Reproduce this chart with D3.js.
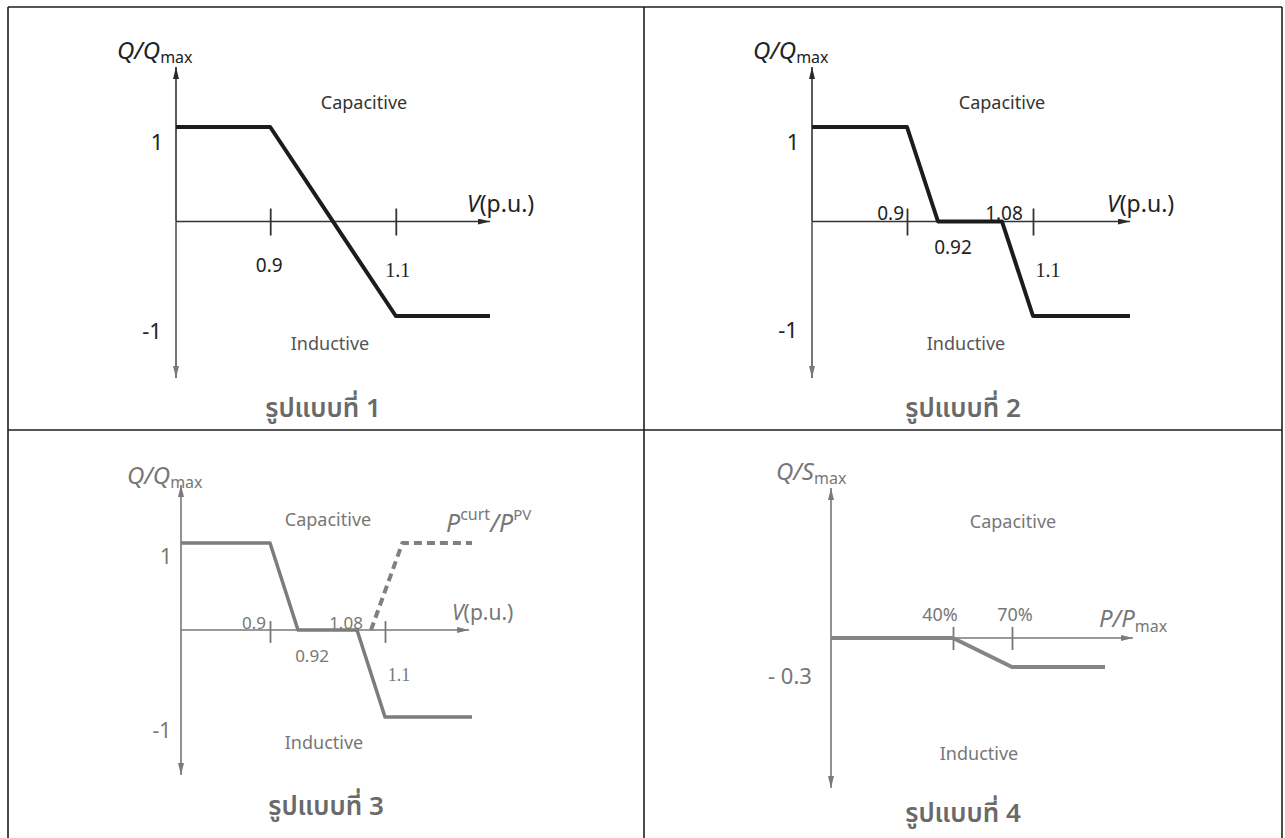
<!DOCTYPE html>
<html>
<head>
<meta charset="utf-8">
<script src="https://cdn.jsdelivr.net/npm/d3@7/dist/d3.min.js"></script>
<style>
  html, body { margin: 0; padding: 0; background: #fff; }
  svg { display: block; }
  text { font-family: "Noto Sans", "Open Sans", sans-serif; }
  .thai { font-family: "Noto Sans Thai", "Noto Sans", "DejaVu Sans", sans-serif; }
  .serif { font-family: "Liberation Serif", "DejaVu Serif", serif; }
</style>
</head>
<body>
<svg id="chart" width="1285" height="838"></svg>
<script>
// ---- Volt-VAr / Volt-Watt / Watt-VAr control curves ----
// Mode 1: linear droop between 0.9 and 1.1 p.u.
const mode1Voltage = [0.75, 0.9, 1.1, 1.25];
const mode1Q = [1, 1, -1, -1];
const mode1Ticks = [0.9, 1.1];

// Mode 2: droop with dead band 0.92 - 1.08 p.u.
const mode2Voltage = [0.75, 0.9, 0.92, 1.08, 1.1, 1.25];
const mode2Q = [1, 1, 0, 0, -1, -1];
const mode2Ticks = [0.9, 1.1];

// Mode 3: dead-band droop plus active power curtailment
const mode3Voltage = [0.75, 0.9, 0.92, 1.08, 1.1, 1.25];
const mode3Q = [1, 1, 0, 0, -1, -1];
const mode3CurtVoltage = [1.09, 1.13, 1.25];
const mode3CurtRatio = [0, 1, 1];
const mode3Ticks = [0.9, 1.1];

// Mode 4: reactive power as a function of active power
const mode4Power = [0, 40, 70, 100];
const mode4Q = [0, 0, -0.3, -0.3];
const mode4Ticks = [40, 70];

const panelTitles = ["รูปแบบที่ 1", "รูปแบบที่ 2", "รูปแบบที่ 3", "รูปแบบที่ 4"];
const regionLabels = ["Capacitive", "Inductive"];

const svg = d3.select("#chart");

// ---- frame ----
const frame = svg.append("g").attr("stroke", "#1e1e1e").attr("stroke-width", 1.6).attr("fill", "none");
frame.append("line").attr("x1", 8).attr("x2", 1282).attr("y1", 7).attr("y2", 7);
frame.append("line").attr("x1", 8).attr("x2", 8).attr("y1", 7).attr("y2", 838);
frame.append("line").attr("x1", 1282).attr("x2", 1282).attr("y1", 7).attr("y2", 838);
frame.append("line").attr("x1", 644).attr("x2", 644).attr("y1", 7).attr("y2", 838);
frame.append("line").attr("x1", 8).attr("x2", 1282).attr("y1", 430).attr("y2", 430);

// ---- arrow markers ----
const defs = svg.append("defs");
function marker(id, color) {
  defs.append("marker")
    .attr("id", id)
    .attr("viewBox", "0 0 12 6")
    .attr("refX", 12).attr("refY", 3)
    .attr("markerWidth", 12).attr("markerHeight", 6)
    .attr("markerUnits", "userSpaceOnUse")
    .attr("orient", "auto")
    .append("path").attr("d", "M0,0 L12,3 L0,6 Z").attr("fill", color);
}
marker("arrDark", "#2a2a2a");
marker("arrGray", "#7a7a7a");

// Draws one panel: axes with arrows, ticks, curves and labels
function drawPanel(cfg) {
  const g = svg.append("g");
  const x = d3.scaleLinear().domain(cfg.xDomain).range(cfg.xRange);
  const y = d3.scaleLinear().domain(cfg.yDomain).range(cfg.yRange);
  const x0 = cfg.xRange[0];
  const yZero = y(0);

  // vertical axis (two halves so the arrowheads can differ in tone)
  g.append("line")
    .attr("x1", x0).attr("x2", x0).attr("y1", yZero).attr("y2", cfg.yTop)
    .attr("stroke", cfg.axisColor).attr("stroke-width", 1.6)
    .attr("marker-end", `url(#${cfg.arrowTop})`);
  g.append("line")
    .attr("x1", x0).attr("x2", x0).attr("y1", yZero).attr("y2", cfg.yBottom)
    .attr("stroke", cfg.axisColorLow).attr("stroke-width", 1.6)
    .attr("marker-end", "url(#arrGray)");
  // horizontal axis
  g.append("line")
    .attr("x1", x0).attr("x2", x(cfg.xAxisEnd)).attr("y1", yZero).attr("y2", yZero)
    .attr("stroke", cfg.axisColor).attr("stroke-width", 1.4)
    .attr("marker-end", `url(#${cfg.arrowRight})`);

  // tick marks crossing the horizontal axis
  const axis = d3.axisBottom(x).tickValues(cfg.ticks).tickSize(cfg.tickLen).tickFormat("");
  const ag = g.append("g").attr("transform", `translate(0,${yZero - cfg.tickUp})`).call(axis);
  ag.select(".domain").remove();
  ag.selectAll(".tick line").attr("stroke", cfg.axisColor).attr("stroke-width", 1.8);

  // curves
  const line = d3.line().x(d => x(d[0])).y(d => y(d[1]));
  cfg.curves.forEach(c => {
    g.append("path")
      .datum(d3.zip(c.xs, c.ys))
      .attr("d", line)
      .attr("fill", "none")
      .attr("stroke", c.color)
      .attr("stroke-width", c.width)
      .attr("stroke-linejoin", "round")
      .attr("stroke-dasharray", c.dash || null);
  });

  // numeric labels
  cfg.labels.forEach(l => {
    g.append("text")
      .attr("class", l.cls || null)
      .attr("x", l.x(x)).attr("y", l.y(y))
      .attr("text-anchor", l.anchor || "middle")
      .attr("font-size", l.size)
      .attr("fill", l.color)
      .text(l.text);
  });

  // rich labels (italic symbols with sub/superscripts)
  cfg.rich.forEach(r => {
    const t = g.append("text").attr("x", r.x).attr("y", r.y).attr("fill", r.color);
    r.parts.forEach(p => {
      const ts = t.append("tspan").attr("font-size", p.size).text(p.text);
      if (p.italic) ts.attr("font-style", "italic");
      if (p.dy) ts.attr("dy", p.dy);
    });
  });

  // region names and title
  g.append("text").attr("x", cfg.capX).attr("y", cfg.capY).attr("text-anchor", "middle")
    .attr("font-size", 18).attr("fill", cfg.textColor).text(regionLabels[0]);
  g.append("text").attr("x", cfg.indX).attr("y", cfg.indY).attr("text-anchor", "middle")
    .attr("font-size", 18).attr("fill", cfg.indColor).text(regionLabels[1]);
  g.append("text").attr("class", "thai")
    .attr("x", cfg.titleX).attr("y", cfg.titleY).attr("text-anchor", "middle")
    .attr("font-size", 26).attr("font-weight", 600).attr("fill", "#6a6a6a")
    .text(cfg.title);
}

function qLabel(x, y, color, sym) {
  return { x, y, color, parts: [
    { text: "Q/" + sym, italic: true, size: 24 },
    { text: "max", size: 16, dy: 4 }
  ]};
}
function vLabel(x, y, color, size) {
  return { x, y, color, parts: [
    { text: "V", italic: true, size },
    { text: "(p.u.)", size }
  ]};
}

const dark = "#1c1c1c";

// Mode 1
drawPanel({
  xDomain: [0.75, 1.25], xRange: [176, 490],
  yDomain: [-1, 1], yRange: [316, 127],
  yTop: 67, yBottom: 378, xAxisEnd: 1.25,
  axisColor: "#333", axisColorLow: "#555", arrowTop: "arrDark", arrowRight: "arrDark",
  ticks: mode1Ticks, tickLen: 27, tickUp: 13,
  curves: [{ xs: mode1Voltage, ys: mode1Q, color: dark, width: 4 }],
  labels: [
    { text: "0.9", x: s => s(0.9) - 1, y: () => 272, size: 19, color: "#222" },
    { text: "1.1", x: s => s(1.1) + 2, y: () => 277, size: 20, color: "#222", cls: "serif" },
    { text: "1", x: s => s.range()[0] - 19, y: s => s(1) + 23, size: 22, color: "#222" },
    { text: "-1", x: s => s.range()[0] - 24, y: s => s(-1) + 23, size: 22, color: "#222" }
  ],
  rich: [qLabel(117, 59, "#222", "Q"), vLabel(467, 212, "#222", 23)],
  capX: 364, capY: 109, indX: 330, indY: 350, textColor: "#333", indColor: "#555",
  title: panelTitles[0], titleX: 323, titleY: 417
});

// Mode 2
drawPanel({
  xDomain: [0.75, 0.9, 0.92, 1.08, 1.1, 1.25], xRange: [812, 907, 938, 1002, 1033, 1130],
  yDomain: [-1, 1], yRange: [316, 127],
  yTop: 67, yBottom: 378, xAxisEnd: 1.25,
  axisColor: "#333", axisColorLow: "#555", arrowTop: "arrDark", arrowRight: "arrDark",
  ticks: mode2Ticks, tickLen: 27, tickUp: 13,
  curves: [{ xs: mode2Voltage, ys: mode2Q, color: dark, width: 4 }],
  labels: [
    { text: "0.9", x: s => s(0.9) - 3, y: () => 220, size: 19, color: "#222", anchor: "end" },
    { text: "1.08", x: s => s(1.08) + 2, y: () => 220, size: 19, color: "#222" },
    { text: "0.92", x: s => s(0.92) + 15, y: () => 254, size: 19, color: "#222" },
    { text: "1.1", x: s => s(1.1) + 15, y: () => 277, size: 20, color: "#222", cls: "serif" },
    { text: "1", x: s => s.range()[0] - 19, y: s => s(1) + 23, size: 22, color: "#222" },
    { text: "-1", x: s => s.range()[0] - 24, y: s => s(-1) + 22, size: 22, color: "#222" }
  ],
  rich: [qLabel(753, 59, "#222", "Q"), vLabel(1107, 212, "#222", 23)],
  capX: 1002, capY: 109, indX: 966, indY: 350, textColor: "#333", indColor: "#555",
  title: panelTitles[1], titleX: 963, titleY: 417
});

// Mode 3
const gray = "#7c7c7c";
drawPanel({
  xDomain: [0.75, 0.9, 0.92, 1.08, 1.1, 1.25], xRange: [181, 270, 298, 357, 385, 472],
  yDomain: [-1, 1], yRange: [717, 543],
  yTop: 485, yBottom: 775, xAxisEnd: 1.245,
  axisColor: "#777", axisColorLow: "#777", arrowTop: "arrGray", arrowRight: "arrGray",
  ticks: mode3Ticks, tickLen: 22, tickUp: 9,
  curves: [
    { xs: mode3Voltage, ys: mode3Q, color: gray, width: 3.5 },
    { xs: mode3CurtVoltage, ys: mode3CurtRatio, color: "#808080", width: 4, dash: "8,5" }
  ],
  labels: [
    { text: "0.9", x: s => s(0.9) - 4, y: () => 629, size: 17, color: "#777", anchor: "end" },
    { text: "1.08", x: s => s(1.08) - 11, y: () => 629, size: 17, color: "#777" },
    { text: "0.92", x: s => s(0.92) + 14, y: () => 662, size: 17, color: "#777" },
    { text: "1.1", x: s => s(1.1) + 14, y: () => 681, size: 18, color: "#777", cls: "serif" },
    { text: "1", x: s => s.range()[0] - 15, y: s => s(1) + 21, size: 21, color: "#777" },
    { text: "-1", x: s => s.range()[0] - 19, y: s => s(-1) + 21, size: 21, color: "#777" }
  ],
  rich: [
    qLabel(127, 484, "#777", "Q"),
    vLabel(452, 620, "#777", 21),
    { x: 446, y: 532, color: "#777", parts: [
      { text: "P", italic: true, size: 25 },
      { text: "curt", size: 16, dy: -12 },
      { text: "/", italic: true, size: 25, dy: 12 },
      { text: "P", italic: true, size: 25 },
      { text: "PV", size: 15, dy: -12 }
    ]}
  ],
  capX: 328, capY: 526, indX: 324, indY: 749, textColor: "#777", indColor: "#777",
  title: panelTitles[2], titleX: 326, titleY: 815
});

// Mode 4
drawPanel({
  xDomain: [0, 40, 70, 100, 110], xRange: [831, 953, 1012, 1105, 1133],
  yDomain: [-0.3, 0], yRange: [667, 638],
  yTop: 488, yBottom: 788, xAxisEnd: 110,
  axisColor: "#777", axisColorLow: "#777", arrowTop: "arrGray", arrowRight: "arrGray",
  ticks: mode4Ticks, tickLen: 23, tickUp: 11,
  curves: [{ xs: mode4Power, ys: mode4Q, color: "#858585", width: 4 }],
  labels: [
    { text: "40%", x: s => s(40) - 13, y: () => 621, size: 18, color: "#777" },
    { text: "70%", x: s => s(70) + 3, y: () => 621, size: 18, color: "#777" },
    { text: "- 0.3", x: s => s.range()[0] - 41, y: s => s(-0.3) + 17, size: 22, color: "#777" }
  ],
  rich: [
    qLabel(776, 480, "#777", "S"),
    { x: 1099, y: 627, color: "#777", parts: [
      { text: "P/P", italic: true, size: 24 },
      { text: "max", size: 16, dy: 5 }
    ]}
  ],
  capX: 1013, capY: 528, indX: 979, indY: 760, textColor: "#777", indColor: "#777",
  title: panelTitles[3], titleX: 963, titleY: 822
});
</script>
</body>
</html>
